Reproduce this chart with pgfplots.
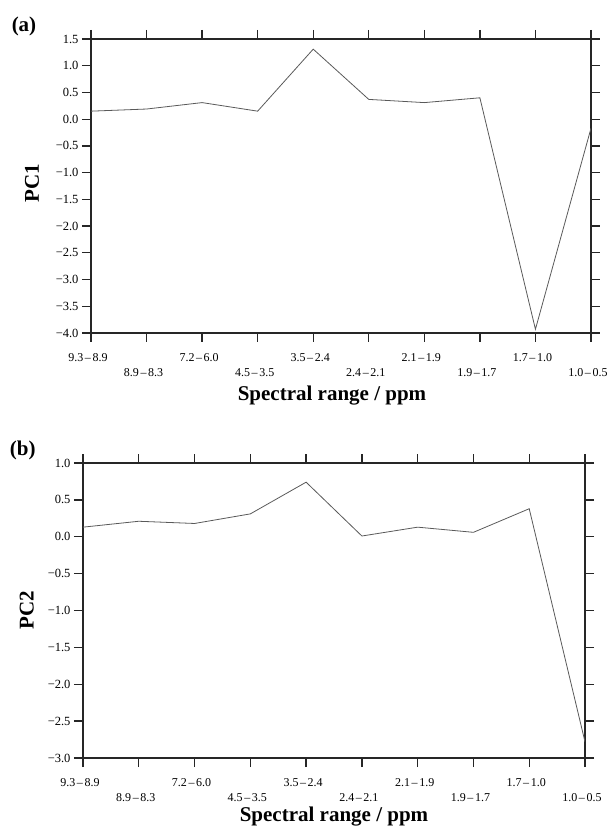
\documentclass[border=0pt]{standalone}
\usepackage{fontspec}
\setmainfont{Liberation Serif}
\usepackage{pgfplots}
\pgfplotsset{compat=1.18}

\newcommand{\rng}[2]{#1\kern1.6pt--\kern1.6pt#2}

\pgfplotsset{pcaxis/.style={
    scale only axis, anchor=south west, clip mode=individual,
    xmin=0, xmax=9,
    axis line style={line width=1.3pt, black!85},
    every tick/.style={line width=1.3pt, black!85},
    tick align=outside, major tick length=9pt,
    xtick={0,2,4,6,8},
    xticklabels={\rng{9.3}{8.9}, \rng{7.2}{6.0}, \rng{3.5}{2.4}, \rng{2.1}{1.9}, \rng{1.7}{1.0}},
    extra x ticks={1,3,5,7,9},
    extra x tick labels={\rng{8.9}{8.3}, \rng{4.5}{3.5}, \rng{2.4}{2.1}, \rng{1.9}{1.7}, \rng{1.0}{0.5}},
    extra x tick style={xticklabel style={yshift=-15pt}},
    xticklabel style={font=\fontsize{12}{13}\selectfont, yshift=-8pt, xshift=-3pt},
    yticklabel style={font=\fontsize{12.5}{14}\selectfont},
    label style={font=\fontsize{21}{24}\selectfont\bfseries},
    xlabel={Spectral range / ppm},
}}

\begin{document}
\begin{tikzpicture}
\path[use as bounding box] (0,0) rectangle (611pt,827pt);

% (a) PC1
\begin{axis}[pcaxis,
    at={(91pt,494pt)}, width=500pt, height=294pt,
    ymin=-4, ymax=1.5,
    ytick={-4,-3.5,-3,-2.5,-2,-1.5,-1,-0.5,0,0.5,1,1.5},
    yticklabels={−4.0,−3.5,−3.0,−2.5,−2.0,−1.5,−1.0,−0.5,0.0,0.5,1.0,1.5},
    ylabel={PC1},
    x label style={at={(axis description cs:0.482,-0.214)}, anchor=center},
    y label style={at={(axis description cs:-0.118,0.51)}, anchor=center, rotate=0},
]
\addplot[line width=0.8pt, black!65, mark=none] coordinates {
    (0,0.15) (1,0.19) (2,0.31) (3,0.15) (4,1.31)
    (5,0.37) (6,0.31) (7,0.40) (8,-3.93) (9,-0.17)};
\node[font=\fontsize{21}{24}\selectfont\bfseries] at (axis description cs:-0.134,1.044) {(a)};
\end{axis}

% (b) PC2
\begin{axis}[pcaxis,
    at={(83pt,69pt)}, width=502pt, height=295pt,
    ymin=-3, ymax=1,
    ytick={-3,-2.5,-2,-1.5,-1,-0.5,0,0.5,1},
    yticklabels={−3.0,−2.5,−2.0,−1.5,−1.0,−0.5,0.0,0.5,1.0},
    ylabel={PC2},
    x label style={at={(axis description cs:0.5,-0.197)}, anchor=center},
    y label style={at={(axis description cs:-0.112,0.5)}, anchor=center, rotate=0},
]
\addplot[line width=0.8pt, black!65, mark=none] coordinates {
    (0,0.13) (1,0.21) (2,0.18) (3,0.31) (4,0.74)
    (5,0.01) (6,0.13) (7,0.06) (8,0.38) (9,-2.78)};
\node[font=\fontsize{21}{24}\selectfont\bfseries] at (axis description cs:-0.12,1.041) {(b)};
\end{axis}
\end{tikzpicture}
\end{document}
